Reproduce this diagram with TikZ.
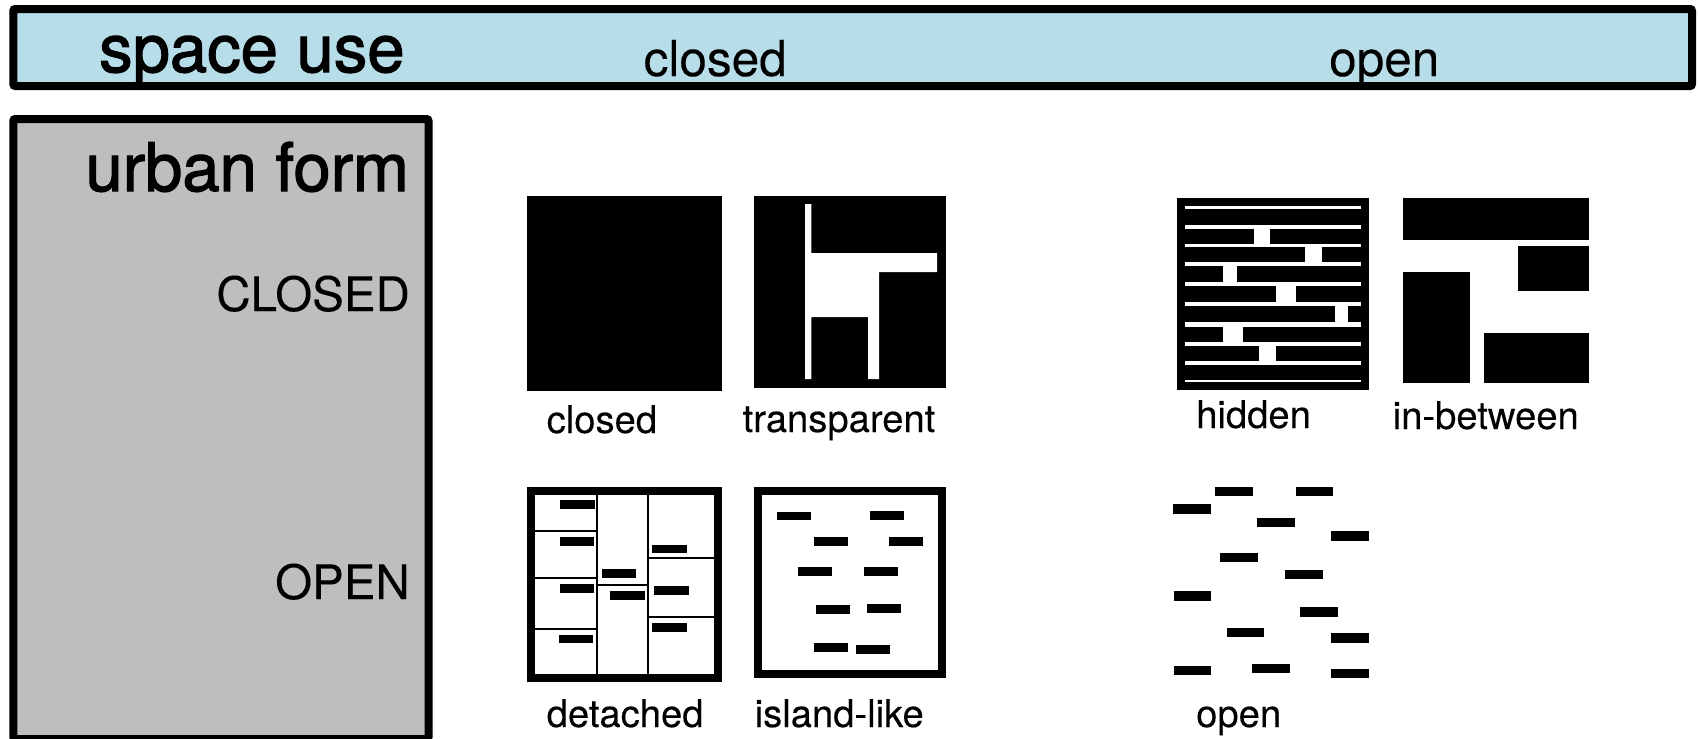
\documentclass[tikz,border=0pt]{standalone}
\usepackage{fontspec}
\setmainfont{TeX Gyre Heros}
\newfontfamily\heavyface[FakeBold=1.8]{TeX Gyre Heros}
\newfontfamily\lightface[FakeBold=0.15]{TeX Gyre Heros}
\definecolor{headblue}{HTML}{B7DDE8}
\definecolor{formgray}{HTML}{BEBEBE}
\newcommand{\sz}[1]{\fontsize{#1}{#1}\selectfont}
\tikzset{
  panel/.style={draw=black,line width=8pt,rounded corners=2pt},
  solid block/.style={fill=black,draw=none},
  void/.style={fill=white,draw=none},
  parcel/.style={draw=black,line width=2pt},
  mini/.style={fill=black,draw=none},
  bigtext/.style={inner sep=0pt,font=\heavyface\sz{67}},
  axistext/.style={inner sep=0pt,font=\lightface\sz{49.5},anchor=base},
  sidetext/.style={inner sep=0pt,font=\lightface\sz{47.5},anchor=base east},
  labeltext/.style={inner sep=0pt,font=\lightface\sz{38.2},anchor=base west},
  zoomed/.style={x=0.33333pt,y=-0.33333pt}
}
\newcommand{\blocks}[2]{\foreach \a/\b/\c/\d in {#2}{\fill[#1] (\a,\b) rectangle (\c,\d);}}
\begin{document}
\begin{tikzpicture}[x=1pt,y=-1pt]
\useasboundingbox (0,0) rectangle (1698,739);
% header and side panels
\draw[panel,fill=headblue] (13.3,9) rectangle (1692,86);
\draw[panel,fill=formgray] (13.3,119) rectangle (428.5,739);
\node[bigtext,anchor=base west] (spaceuse) at (99,72) {space use};
\node[axistext,anchor=base west] (hclosed) at (643.5,76) {closed};
\node[axistext,anchor=base west] (hopen) at (1329,76) {open};
\node[bigtext,anchor=base east] (urbanform) at (409,191) {urban form};
\node[sidetext] (vclosed) at (410,311) {CLOSED};
\node[sidetext] (vopen) at (410,599) {OPEN};
% closed
\fill[solid block] (527,196) rectangle (722,391);
% transparent
\fill[solid block] (754,196) rectangle (946,388);
\fill[void] (805,204) -- (811.3,204) -- (811.3,253) -- (937,253) -- (937,272) -- (879,272) -- (879,379) -- (868,379) -- (868,317) -- (811.3,317) -- (811.3,379) -- (805,379) -- cycle;
% detached
\draw[black,line width=8pt,fill=white] (531,491) rectangle (718,678);
\foreach \xa/\ya/\xb/\yb in {597.3/495/597.3/674,648/495/648/674,535/531/597.3/531,535/577.7/597.3/577.7,535/628.7/597.3/628.7,597.3/584.7/648/584.7,648/557.7/714/557.7,648/617.3/714/617.3}{
  \draw[parcel] (\xa,\ya) -- (\xb,\yb);
}
\begin{scope}[shift={(500,470)},zoomed]
\blocks{mini}{180/91/284/117,179/202/282/228,179/343/282/369,176/494/280/520,306/298/409/324,331/363/434/389,456/224/560/250,462/348/566/374,456/460/560/486}
\end{scope}
% island-like
\draw[black,line width=8pt,fill=white] (758,491) rectangle (942,674);
\begin{scope}[shift={(500,470)},zoomed]
\blocks{mini}{830/125/932/151,1109/123/1211/149,943/202/1045/228,1168/202/1270/228,895/291/997/317,1091/292/1193/318,949/405/1051/431,1101/403/1203/429,941/520/1043/546,1067/525/1169/551}
\end{scope}
% hidden
\fill[solid block] (1177,198) rectangle (1369,390);
\begin{scope}[shift={(1160,180)},zoomed]
\blocks{void}{75/78/603/88,75/135/603/147,75/193/603/200,75/246/603/257,75/305/603/318,75/365/603/378,75/425/603/440,75/487/603/499,75/544/603/554,75/600/603/606}
\blocks{void}{283/141/329/196,436/196/485/251,190/251/231/311,347/311/407/371,526/371/565/432,190/432/248/493,297/493/348/549}
% in-between
\blocks{solid block}{729/54/1287/179,1074/198/1287/332,729/277/930/608,973/458/1287/608}
\end{scope}
% open
\begin{scope}[shift={(1160,470)},zoomed]
\blocks{mini}{164/51/278/79,407/51/520/79,39/103/152/131,290/144/404/172,514/184/627/212,179/248/293/276,375/299/488/327,41/364/154/392,420/412/533/440,200/474/313/502,514/490/627/518,41/587/154/615,277/581/390/609,514/596/627/624}
\end{scope}
% labels
\node[labeltext] (lclosed) at (546.5,433) {closed};
\node[labeltext] (ltransparent) at (742.5,432) {transparent};
\node[labeltext] (lhidden) at (1196,428) {hidden};
\node[labeltext] (linbetween) at (1392.5,429) {in-between};
\node[labeltext] (ldetached) at (546.5,727) {detached};
\node[labeltext] (lisland) at (754.5,727) {island-like};
\node[labeltext] (lopen) at (1196,727) {open};
\end{tikzpicture}
\end{document}
